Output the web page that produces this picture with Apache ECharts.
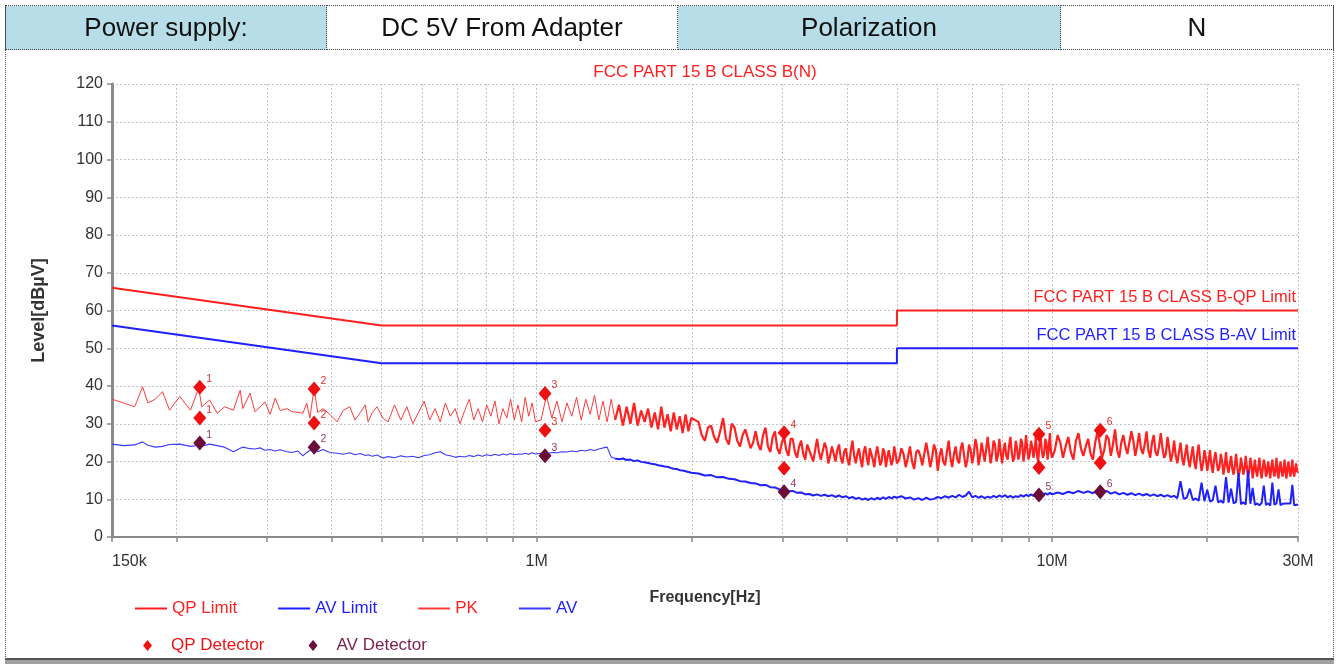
<!DOCTYPE html>
<html>
<head>
<meta charset="utf-8">
<title>FCC PART 15 B CLASS B(N)</title>
<script src="https://cdn.jsdelivr.net/npm/echarts@6/dist/echarts.min.js"></script>
<style>
  html, body { margin: 0; padding: 0; background: #fff; }
  #wrap { position: relative; width: 1338px; height: 664px; overflow: hidden; font-family: Arial, 'Liberation Sans', sans-serif; }
  #chart { position: absolute; left: 0; top: 0; width: 1338px; height: 664px; }
  #frame { position: absolute; left: 5px; top: 5px; width: 1327px; height: 652px; border-left: 1px dotted #555; border-right: 1px dotted #555; }
  #foot { position: absolute; left: 5px; top: 658px; width: 1329px; height: 6px; background: #a0a0a0; border-top: 2px solid #555; }
  table.info { position: absolute; left: 5px; top: 5px; width: 1329px; height: 45px; border-collapse: collapse; table-layout: fixed; z-index: 2; }
  table.info td { border: 1px dotted #444; text-align: center; font-size: 26px; color: #111; padding: 0; }
  table.info td.hd { background: #b6dde8; }
</style>
</head>
<body>
<div id="wrap">
  <div id="chart"></div>
  <div id="frame"></div>
  <div id="foot"></div>
  <table class="info"><tr>
    <td class="hd" style="width:320px">Power supply:</td>
    <td style="width:350px">DC 5V From Adapter</td>
    <td class="hd" style="width:382px">Polarization</td>
    <td>N</td>
  </tr></table>
</div>
<script>
  // 频率 (kHz)，PK 和 AV 共用
  const freqKHz = [
    150, 158, 166, 172, 176, 182, 188, 194, 203, 213,
    221, 224, 232, 240, 248, 258, 266, 269, 278, 284,
    291, 297, 304, 311, 318, 328, 335, 344, 352, 358,
    363, 370, 376, 385, 397, 410, 421, 434, 444, 455,
    465, 471, 480, 490, 503,
    515, 530, 545, 560, 575, 590, 605, 620, 635, 650,
    665, 680, 695, 710, 725, 740, 755, 770, 785, 800,
    815, 830, 845, 860, 875, 890, 905, 920, 935, 950,
    965, 980, 995,
    1020, 1045, 1070, 1095, 1120, 1145, 1170, 1195, 1220, 1245,
    1270, 1295, 1320, 1345, 1370, 1395, 1420, 1445, 1470, 1495,
    1520, 1545, 1570, 1595, 1620, 1645, 1670, 1695, 1720, 1745,
    1770, 1795, 1820, 1845, 1870, 1895, 1920, 1945, 1970, 1995,
    2060, 2120, 2180, 2240, 2300, 2360, 2420, 2480, 2540, 2600,
    2660, 2720, 2780, 2840, 2900, 2960, 3020, 3080, 3140, 3200,
    3260, 3320, 3380, 3440, 3500, 3560, 3620, 3680, 3740, 3800,
    3860, 3920, 3980, 4040, 4100, 4160, 4220, 4280, 4340, 4400,
    4460, 4520, 4580, 4640, 4700, 4760, 4820, 4880, 4940, 5000,
    5100, 5200, 5300, 5400, 5500, 5600, 5700, 5800, 5900, 6000,
    6100, 6200, 6300, 6400, 6500, 6600, 6700, 6800, 6900, 7000,
    7100, 7200, 7300, 7400, 7500, 7600, 7700, 7800, 7900, 8000,
    8100, 8200, 8300, 8400, 8500, 8600, 8700, 8800, 8900, 9000,
    9100, 9200, 9300, 9400, 9500, 9600, 9700, 9800, 9900, 10000,
    10250, 10500, 10750, 11000, 11250, 11500, 11750, 12000, 12250, 12500,
    12750, 13000, 13250, 13500, 13750, 14000, 14250, 14500, 14750, 15000,
    15250, 15500, 15750, 16000, 16250, 16500, 16750, 17000, 17250, 17500,
    17750, 18000, 18250, 18500, 18750, 19000, 19250, 19500, 19750, 20000,
    20250, 20500, 20750, 21000, 21250, 21500, 21750, 22000, 22250, 22500,
    22750, 23000, 23250, 23500, 23750, 24000, 24250, 24500, 24750, 25000,
    25250, 25500, 25750, 26000, 26250, 26500, 26750, 27000, 27250, 27500,
    27750, 28000, 28250, 28500, 28750, 29000, 29250, 29500, 29750, 30000
  ]

  // PK 扫描 (dBµV)
  const pkLevel = [
    36.5, 35.5, 34.5, 39.8, 35.5, 36.5, 38.5, 33.6, 37.2, 33.6,
    39.5, 34.5, 36.3, 32.8, 34.5, 33.6, 38.9, 34, 38.1, 33.2,
    34.5, 35.8, 32.5, 36.8, 33.5, 34, 33.2, 33, 32.8, 35.5,
    31.5, 39.4, 33, 34, 32.5, 30.5, 33.5, 34.5, 31, 33,
    35, 30.5, 33, 34.5, 31.5,
    30.5, 35, 31, 34.5, 30, 33, 36, 31, 34, 30.5,
    35.5, 32, 34, 30, 33.5, 36.5, 31, 34, 30.5, 35,
    32, 36, 30, 34, 31.5, 36.5, 31, 35, 30.5, 37,
    32, 35.5, 30.5,
    31, 37.5, 31.5, 36, 30.5, 35.5, 32, 37, 31, 36.5,
    32.5, 37.5, 31, 36, 30.5, 36.5, 31, 35, 29.5, 34.5,
    30, 35.5, 29.5, 33.5, 30.5, 34, 29, 33, 28.5, 34.5,
    29, 32.5, 28, 33, 28.5, 32, 27.5, 32.5, 28, 31.5,
    30.5, 25.5, 29.5, 25, 31.5, 24.5, 29, 24, 28.5, 23.5,
    28, 23, 29, 22.5, 28, 22, 26.5, 21.5, 26, 21,
    25.5, 20.5, 25, 20, 26, 20.5, 25, 19.5, 24, 20,
    24.5, 19.5, 23.5, 19, 25.5, 19.5, 23.5, 18.5, 24, 19,
    23, 18.5, 24, 19, 23.5, 18.5, 23, 19, 24, 19.5,
    23.5, 18.5, 24, 18, 23, 19, 25, 18.5, 24.5, 17.5,
    23.5, 19, 25.5, 18.5, 24, 19.5, 25, 18.5, 24.5, 19.5,
    26, 19, 25, 20, 26.5, 19.5, 25.5, 20, 26, 19.5,
    25, 20.5, 26.5, 20, 25.5, 20.5, 26, 20, 27, 20.5,
    25.5, 21, 26.5, 20, 27, 21, 26, 20.5, 27.5, 21,
    27, 21, 26.5, 20.5, 27.5, 21.5, 26, 20.5, 28, 21,
    27, 21.5, 28.5, 21, 27, 22, 28, 21.5, 27.5, 22,
    28, 21, 27, 21.5, 27.5, 21, 26.5, 20, 25.5, 19.5,
    25, 19, 24.5, 18.5, 24, 18, 24.5, 17.5, 23, 17.5,
    23, 17, 22.5, 17.5, 22, 16.5, 22.5, 17, 21.5, 16.5,
    22, 16, 21, 16.5, 21.5, 16, 21, 15.5, 20.5, 16,
    21, 15.5, 20.5, 16, 20, 15.5, 20.5, 16, 21, 15.5,
    20, 16, 20.5, 15.5, 20, 16, 20.5, 16, 19.5, 17
  ]

  // PK 高频段的中间点 (kHz / dBµV)
  const pkFineFreqKHz = [
    2090, 2150, 2210, 2270, 2330, 2390, 2450, 2510, 2570, 2630,
    2690, 2750, 2810, 2870, 2930, 2990, 3050, 3110, 3170, 3230,
    3290, 3350, 3410, 3470, 3530, 3590, 3650, 3710, 3770, 3830,
    3890, 3950, 4010, 4070, 4130, 4190, 4250, 4310, 4370, 4430,
    4490, 4550, 4610, 4670, 4730, 4790, 4850, 4910, 4970,
    5050, 5150, 5250, 5350, 5450, 5550, 5650, 5750, 5850, 5950,
    6050, 6150, 6250, 6350, 6450, 6550, 6650, 6750, 6850, 6950,
    7050, 7150, 7250, 7350, 7450, 7550, 7650, 7750, 7850, 7950,
    8050, 8150, 8250, 8350, 8450, 8550, 8650, 8750, 8850, 8950,
    9050, 9150, 9250, 9350, 9450, 9550, 9650, 9750, 9850, 9950,
    10125, 10375, 10625, 10875, 11125, 11375, 11625, 11875, 12125, 12375,
    12625, 12875, 13125, 13375, 13625, 13875, 14125, 14375, 14625, 14875,
    15125, 15375, 15625, 15875, 16125, 16375, 16625, 16875, 17125, 17375,
    17625, 17875, 18125, 18375, 18625, 18875, 19125, 19375, 19625, 19875,
    20125, 20375, 20625, 20875, 21125, 21375, 21625, 21875, 22125, 22375,
    22625, 22875, 23125, 23375, 23625, 23875, 24125, 24375, 24625, 24875,
    25125, 25375, 25625, 25875, 26125, 26375, 26625, 26875, 27125, 27375,
    27625, 27875, 28125, 28375, 28625, 28875, 29125, 29375, 29625, 29875
  ]
  const pkFineLevel = [
    27, 29, 26.5, 28, 26, 30, 25.5, 27, 26, 25,
    24.5, 27, 24, 26.5, 23.5, 25, 23, 26, 22.5, 24,
    22, 24.5, 21.5, 23, 22.5, 21, 23.5, 21.5, 22, 23,
    21, 22.5, 20.5, 23, 21.5, 22, 20.5, 22.5, 21, 23.5,
    20.5, 22, 21.5, 20, 22.5, 21, 23, 20.5, 22,
    20.5, 22, 21, 20, 22.5, 21.5, 19.5, 22, 21, 23,
    21.5, 20, 22.5, 21, 22, 20.5, 23.5, 21.5, 20.5, 23,
    22, 24, 21.5, 22.5, 20.5, 23, 22, 24.5, 21.5, 22.5,
    23, 21.5, 24, 22.5, 21, 23.5, 22, 25, 22.5, 23.5,
    22, 24, 23, 21.5, 24.5, 23, 22, 25, 23.5, 22.5,
    23, 25, 24, 22.5, 25.5, 23.5, 24, 22, 25, 24.5,
    23, 26, 24.5, 23, 25, 24, 22.5, 25.5, 24, 23.5,
    24.5, 23, 25, 22.5, 24, 23.5, 22, 23.5, 22, 21.5,
    22.5, 21, 22, 20.5, 21.5, 20, 22, 20.5, 19.5, 21,
    20, 19, 20.5, 19.5, 18.5, 20, 19, 18.5, 19.5, 18,
    19, 18.5, 17.5, 19, 18, 18.5, 17.5, 19, 18, 17.5,
    18.5, 17.5, 18, 19, 17, 18, 18.5, 17.5, 18, 17,
    18.5, 17.5, 18, 17, 18.5, 17.5, 18, 17, 18, 17.5
  ]

  // AV 扫描 (dBµV)
  const avLevel = [
    24.6, 24.2, 24.4, 25.2, 24.3, 23.8, 24, 24.5, 24.6, 24,
    24.3, 24.1, 24.6, 24.2, 23.8, 22.6, 23.5, 23.8, 23.4, 23.3,
    23.6, 23, 23.2, 22.8, 23.1, 22.6, 22.4, 22.8, 21.5, 22.4,
    22.9, 23.3, 22.6, 23.2, 22.4, 22.2, 21.9, 22.3, 21.8, 22.1,
    21.6, 21.8, 21.4, 21.7, 20.9,
    21.3, 21.0, 21.5, 21.2, 21.4, 21.0, 21.6, 21.8, 22.3, 22.6,
    21.8, 21.5, 21.1, 21.4, 21.2, 21.6, 21.3, 21.7, 21.4, 21.8,
    21.5, 21.9, 21.6, 22.0, 21.7, 22.1, 21.8, 22.0, 21.9, 22.2,
    21.9, 22.3, 22.0,
    22.2, 22.0, 22.4, 22.3, 22.6, 22.5, 22.8, 22.6, 23.0, 22.8,
    23.2, 22.9, 23.3, 23.6, 23.8, 21.2, 20.8, 20.6, 20.8, 20.4,
    20.5, 20.1, 20.3, 19.9, 19.8, 19.6, 19.4, 19.3, 19.0, 18.9,
    18.7, 18.6, 18.3, 18.1, 18.0, 17.7, 17.6, 17.4, 17.2, 17.0,
    16.8, 16.3, 16.4, 15.8, 15.9, 15.4, 15.3, 14.8, 14.7, 14.3,
    14.2, 13.7, 13.8, 13.2, 13.1, 12.6, 12.5, 12.1, 12.2, 11.7,
    11.8, 11.3, 11.4, 11.0, 11.3, 10.9, 11.2, 10.8, 11.1, 10.6,
    11.0, 10.5, 10.8, 10.3, 10.6, 10.1, 10.4, 9.9, 10.2, 9.8,
    10.3, 9.9, 10.4, 10.0, 10.5, 10.1, 10.6, 10.2, 10.7, 10.4,
    10.8, 10.2, 10.5, 9.9, 10.3, 9.8, 10.4, 9.9, 10.1, 10.6,
    10.3, 10.8, 10.4, 10.9, 10.5, 11.2, 10.6, 11.0, 12.0, 10.5,
    10.9, 10.4, 10.8, 10.3, 10.7, 10.4, 10.9, 10.5, 11.0, 10.6,
    11.1, 10.5, 10.9, 10.4, 10.8, 10.6, 11.1, 10.7, 11.2, 10.8,
    11.3, 10.9, 11.4, 11.0, 11.5, 11.1, 11.6, 11.2, 11.7, 11.3,
    11.8, 11.4, 12.0, 11.6, 12.2, 11.7, 12.1, 11.6, 12.3, 11.8,
    12.2, 11.5, 11.9, 11.3, 11.7, 11.2, 11.6, 11.1, 11.5, 11.0,
    11.4, 10.9, 11.3, 10.8, 11.2, 10.7, 11.1, 10.6, 10.9, 10.3,
    14.8, 10.1, 10.4, 12.8, 9.8, 10.2, 9.6, 14.4, 9.5, 12.5,
    9.4, 9.8, 13.6, 9.2, 9.6, 9.0, 15.9, 9.1, 12.8, 8.9,
    9.3, 16.9, 8.7, 9.2, 8.6, 17.6, 8.8, 13.0, 8.5, 8.9,
    8.4, 9.0, 13.6, 8.5, 8.9, 8.3, 14.4, 8.6, 8.9, 12.6,
    8.4, 8.8, 8.3, 8.9, 8.5, 8.9, 13.8, 8.4, 8.8, 8.6
  ]

  // 限值
  const limitFreqKHz = [150, 500, 5000, 5000, 30000]
  const qpLimit = [66, 56, 56, 60, 60]
  const avLimit = [56, 46, 46, 50, 50]

  // 检波点
  const markerNo = [1, 2, 3, 4, 5, 6]
  const markerFreqKHz = [222, 370, 1038, 3020, 9430, 12400]
  const qpPeak = [39.7, 39.2, 38.0, 27.6, 27.2, 28.3]
  const qpValue = [31.5, 30.2, 28.3, 18.2, 18.4, 19.7]
  const avValue = [24.9, 23.8, 21.5, 12.0, 11.1, 12.0]

  // 坐标轴
  const gridFreqKHz = [150, 200, 300, 400, 500, 600, 700, 800, 900, 1000,
    2000, 3000, 4000, 5000, 6000, 7000, 8000, 9000, 10000, 20000, 30000]
  const labelFreqKHz = [150, 1000, 10000, 30000]

  const red = '#ff1f1f'
  const blue = '#1f1fff'
  const maroon = '#6b0d38'
  const font = "Arial, 'Liberation Sans', sans-serif"

  const pair = (fs, vs) => fs.map((f, i) => [f * 1000, vs[i]])

  // 高频段扫描点密，线画粗一点
  const denseFromHz = 1420000
  const pkData = pair(freqKHz, pkLevel)
    .concat(pair(pkFineFreqKHz, pkFineLevel))
    .sort((a, b) => a[0] - b[0])
  const avData = pair(freqKHz, avLevel)

  const qpMarks = []
  markerFreqKHz.forEach((f, i) => {
    qpMarks.push({ value: [f * 1000, qpPeak[i]], no: markerNo[i], label: { show: true } })
    qpMarks.push({ value: [f * 1000, qpValue[i]], no: markerNo[i], label: { show: i < 3 } })
  })
  const avMarks = markerFreqKHz.map((f, i) => ({ value: [f * 1000, avValue[i]], no: markerNo[i] }))

  const fmtFreq = v => {
    const k = Math.round(v / 1000)
    return k >= 1000 ? (k / 1000) + 'M' : k + 'k'
  }

  const limitLabel = (text, color) => ({
    symbol: 'rect',
    symbolSize: 1,
    itemStyle: { color: 'rgba(0,0,0,0)' },
    label: {
      show: true,
      position: 'top',
      align: 'right',
      distance: 4,
      offset: [-2, 0],
      formatter: text,
      color: color,
      fontSize: 16.5,
      fontFamily: font
    }
  })

  const trace = (name, data, color, width, z) => ({
    name: name,
    type: 'line',
    data: data,
    symbol: 'none',
    lineStyle: { color: color, width: width },
    itemStyle: { color: color },
    z: z
  })

  const myChart = echarts.init(document.getElementById('chart'))
  myChart.setOption({
    animation: false,
    textStyle: { fontFamily: font },
    grid: { left: 112, right: 40, top: 84, bottom: 127 },
    graphic: [{
      type: 'text',
      x: 705,
      y: 72,
      style: {
        text: 'FCC PART 15 B CLASS B(N)',
        fill: red,
        font: '17px ' + font,
        textAlign: 'center',
        textVerticalAlign: 'middle'
      }
    }],
    legend: [{
      left: 130,
      top: 595,
      itemWidth: 32,
      itemHeight: 2,
      itemGap: 41,
      textStyle: { fontSize: 17 },
      data: [
        { name: 'QP Limit', icon: 'rect', textStyle: { color: red } },
        { name: 'AV Limit', icon: 'rect', textStyle: { color: blue } },
        { name: 'PK', icon: 'rect', textStyle: { color: red } },
        { name: 'AV', icon: 'rect', textStyle: { color: blue } }
      ]
    }, {
      left: 138,
      top: 632,
      itemWidth: 9,
      itemHeight: 11,
      itemGap: 44,
      textStyle: { fontSize: 17, padding: [0, 0, 0, 14] },
      data: [
        { name: 'QP Detector', icon: 'diamond', textStyle: { color: '#ee1111' } },
        { name: 'AV Detector', icon: 'diamond', textStyle: { color: '#7a1f4f' } }
      ]
    }],
    xAxis: {
      type: 'log',
      logBase: 10,
      min: 150000,
      max: 30000000,
      name: 'Frequency[Hz]',
      nameLocation: 'middle',
      nameGap: 53,
      nameTextStyle: { fontSize: 16, fontWeight: 'bold', color: '#333' },
      axisLine: { lineStyle: { color: '#8a8a8a', width: 2 } },
      axisTick: {
        length: 5,
        customValues: gridFreqKHz.map(f => f * 1000),
        lineStyle: { color: '#8a8a8a', width: 1.5 }
      },
      axisLabel: {
        customValues: labelFreqKHz.map(f => f * 1000),
        formatter: fmtFreq,
        fontSize: 16,
        color: '#333',
        margin: 17,
        alignMinLabel: 'left'
      },
      splitLine: { show: true, lineStyle: { color: '#c4c4c4', type: [2, 2] } }
    },
    yAxis: {
      type: 'value',
      min: 0,
      max: 120,
      interval: 10,
      name: 'Level[dBµV]',
      nameLocation: 'middle',
      nameGap: 64,
      nameTextStyle: { fontSize: 18, fontWeight: 'bold', color: '#333' },
      axisLine: { show: true, lineStyle: { color: '#8a8a8a', width: 3 } },
      axisTick: { show: true, length: 5, lineStyle: { color: '#8a8a8a', width: 1.5 } },
      axisLabel: { fontSize: 16, color: '#333', margin: 9 },
      splitLine: { lineStyle: { color: '#c4c4c4', type: [2, 2] } }
    },
    series: [{
      name: 'QP Limit',
      type: 'line',
      data: pair(limitFreqKHz, qpLimit),
      symbol: 'none',
      lineStyle: { color: red, width: 2 },
      itemStyle: { color: red },
      z: 4,
      markPoint: { silent: true, data: [{ coord: [30000000, 60], ...limitLabel('FCC PART 15 B CLASS B-QP Limit', red) }] }
    }, {
      name: 'AV Limit',
      type: 'line',
      data: pair(limitFreqKHz, avLimit),
      symbol: 'none',
      lineStyle: { color: blue, width: 2 },
      itemStyle: { color: blue },
      z: 4,
      markPoint: { silent: true, data: [{ coord: [30000000, 50], ...limitLabel('FCC PART 15 B CLASS B-AV Limit', blue) }] }
    },
    trace('PK', pkData.filter(d => d[0] <= denseFromHz), '#ff3a3a', 1, 2),
    trace('PK', pkData.filter(d => d[0] >= denseFromHz), '#ff2020', 2.2, 2),
    trace('AV', avData.filter(d => d[0] <= denseFromHz), '#3a3aff', 1.1, 3),
    trace('AV', avData.filter(d => d[0] >= denseFromHz), '#2020ff', 2, 3),
    {
      name: 'QP Detector',
      type: 'scatter',
      data: qpMarks,
      symbol: 'diamond',
      symbolSize: [13, 15],
      itemStyle: { color: '#ee1111', opacity: 1 },
      z: 6,
      label: {
        position: 'right',
        distance: 0,
        offset: [0, -8],
        fontSize: 10.5,
        color: '#e03030',
        formatter: p => p.data.no
      }
    }, {
      name: 'AV Detector',
      type: 'scatter',
      data: avMarks,
      symbol: 'diamond',
      symbolSize: [13, 15],
      itemStyle: { color: maroon, opacity: 1 },
      z: 7,
      label: {
        show: true,
        position: 'right',
        distance: 0,
        offset: [0, -8],
        fontSize: 10.5,
        color: '#8a3a66',
        formatter: p => p.data.no
      }
    }]
  })
</script>
</body>
</html>
